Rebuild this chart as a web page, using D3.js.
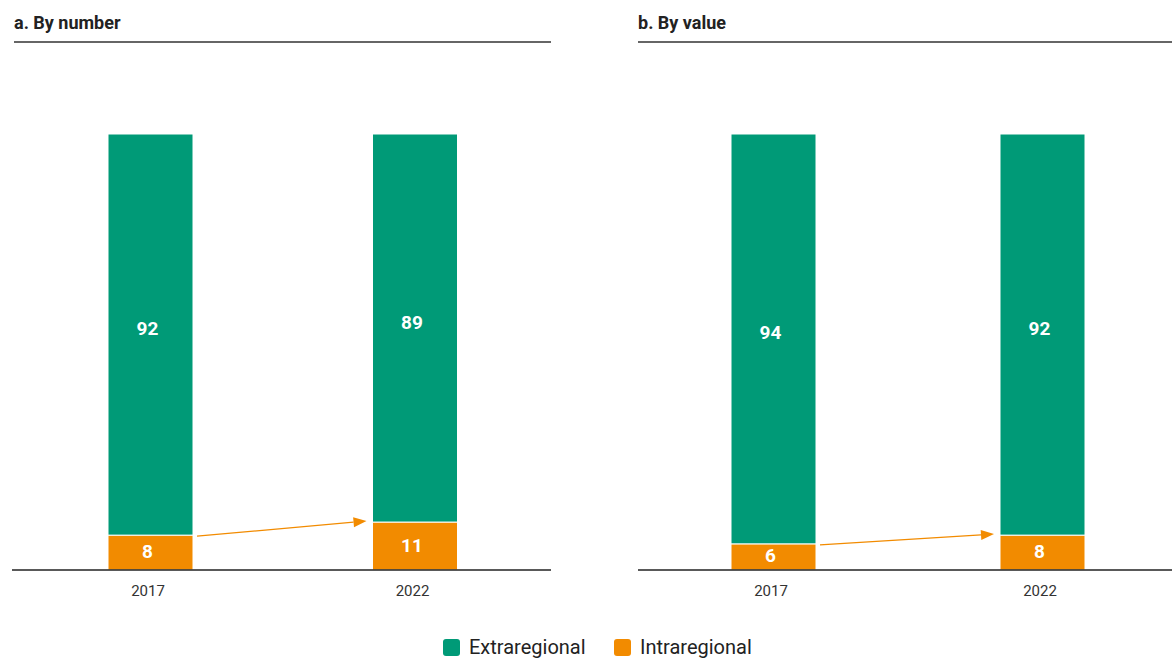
<!DOCTYPE html>
<html>
<head>
<meta charset="utf-8">
<script src="https://cdn.jsdelivr.net/npm/d3@7"></script>
<style>
  body { margin: 0; background: #fff; }
  svg text { font-family: "Liberation Sans Narrow", "Roboto", sans-serif; }
</style>
</head>
<body>
<div id="chart"></div>
<script>
var years = ["2017", "2022"];
var panelTitles = ["a. By number", "b. By value"];
var extraregional = [[92, 89], [94, 92]];
var intraregional = [[8, 11], [6, 8]];
var seriesNames = ["Extraregional", "Intraregional"];

var green = "#009a77", orange = "#f28b00";
var width = 1172, height = 659;

var svg = d3.select("#chart")
	.append("svg")
	.attr("width", width)
	.attr("height", height);

var panels = [
	{ left: 12, right: 551, titleX: 14, bars: [150.5, 415] },
	{ left: 638, right: 1172, titleX: 638, bars: [773.5, 1042.5] }
];

var y = d3.scaleLinear().domain([0, 100]).range([570, 134]);
var barW = 85;

panels.forEach(function(p, k) {
	var g = svg.append("g");

	g.append("text")
		.attr("x", p.titleX)
		.attr("y", 29)
		.style("font-size", "18px")
		.style("font-weight", "bold")
		.style("fill", "#222")
		.text(panelTitles[k]);

	g.append("line")
		.attr("x1", p.titleX).attr("x2", p.right)
		.attr("y1", 42).attr("y2", 42)
		.attr("stroke", "#666").attr("stroke-width", 2);

	var x = d3.scalePoint().domain(years).range(p.bars);

	var rows = years.map(function(yr, i) {
		return { year: yr, intra: intraregional[k][i], extra: extraregional[k][i] };
	});

	// intraregional at the bottom, extraregional stacked on top
	g.selectAll("rect.intra")
		.data(rows).enter()
		.append("rect")
		.attr("class", "intra")
		.attr("x", function(d) { return x(d.year) - barW / 2; })
		.attr("width", barW)
		.attr("y", function(d) { return y(d.intra); })
		.attr("height", function(d) { return y(0) - y(d.intra); })
		.attr("fill", orange)
		.attr("stroke", "#fff").attr("stroke-width", 1);

	g.selectAll("rect.extra")
		.data(rows).enter()
		.append("rect")
		.attr("class", "extra")
		.attr("x", function(d) { return x(d.year) - barW / 2; })
		.attr("width", barW)
		.attr("y", function(d) { return y(d.intra + d.extra); })
		.attr("height", function(d) { return y(d.intra) - y(d.intra + d.extra); })
		.attr("fill", green)
		.attr("stroke", "#fff").attr("stroke-width", 1);

	g.selectAll("text.extra")
		.data(rows).enter()
		.append("text")
		.attr("x", function(d) { return x(d.year) - 3; })
		.attr("y", function(d) { return (y(d.intra) + y(d.intra + d.extra)) / 2 - 6; })
		.attr("text-anchor", "middle")
		.attr("dominant-baseline", "central")
		.style("font-size", "19px").style("font-weight", "bold")
		.style("fill", "#fff")
		.text(function(d) { return d.extra; });

	g.selectAll("text.intra")
		.data(rows).enter()
		.append("text")
		.attr("x", function(d) { return x(d.year) - 3; })
		.attr("y", function(d) { return (y(0) + y(d.intra)) / 2 - 1; })
		.attr("text-anchor", "middle")
		.attr("dominant-baseline", "central")
		.style("font-size", "19px").style("font-weight", "bold")
		.style("fill", "#fff")
		.text(function(d) { return d.intra; });

	// baseline
	g.append("line")
		.attr("x1", p.left).attr("x2", p.right)
		.attr("y1", y(0)).attr("y2", y(0))
		.attr("stroke", "#222").attr("stroke-width", 1.5);

	var axis = g.append("g")
		.attr("transform", "translate(-3," + y(0) + ")")
		.call(d3.axisBottom(x).tickSize(0).tickPadding(15));
	axis.select(".domain").remove();
	axis.selectAll("text")
		.style("font-family", "'Liberation Sans Narrow', Roboto, sans-serif")
		.style("font-size", "15px")
		.style("fill", "#333");

	// arrow showing the intraregional change
	var x1 = x(years[0]) + barW / 2 + 4, y1 = y(rows[0].intra) + 1;
	var x2 = x(years[1]) - barW / 2 - 6, y2 = y(rows[1].intra) - 1;
	var ang = Math.atan2(y2 - y1, x2 - x1);
	var hl = 13, hw = 5;
	g.append("line")
		.attr("x1", x1).attr("y1", y1)
		.attr("x2", x2 - hl * Math.cos(ang)).attr("y2", y2 - hl * Math.sin(ang))
		.attr("stroke", orange).attr("stroke-width", 1.3);
	var bx = x2 - hl * Math.cos(ang), by = y2 - hl * Math.sin(ang);
	g.append("path")
		.attr("d", "M" + x2 + "," + y2 +
			"L" + (bx - hw * Math.sin(ang)) + "," + (by + hw * Math.cos(ang)) +
			"L" + (bx + hw * Math.sin(ang)) + "," + (by - hw * Math.cos(ang)) + "Z")
		.attr("fill", orange);
});

// legend
var legend = svg.append("g").attr("transform", "translate(443,639)");
var legX = [0, 171];
seriesNames.forEach(function(name, i) {
	legend.append("rect")
		.attr("x", legX[i]).attr("y", 0)
		.attr("width", 17).attr("height", 17)
		.attr("rx", 3)
		.attr("fill", i === 0 ? green : orange);
	legend.append("text")
		.attr("x", legX[i] + 26).attr("y", 15)
		.style("font-size", "20px")
		.style("fill", "#222")
		.text(name);
});
</script>
</body>
</html>
